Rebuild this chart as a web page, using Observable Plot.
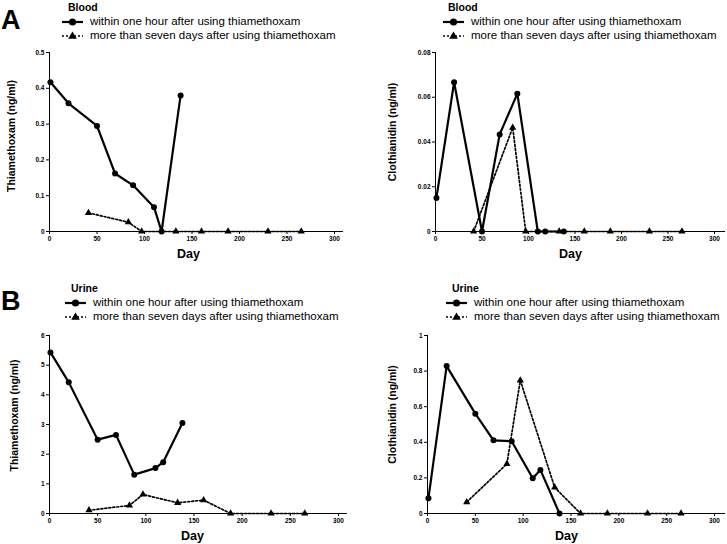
<!DOCTYPE html>
<html>
<head>
<meta charset="utf-8">
<script src="https://cdn.jsdelivr.net/npm/d3@7"></script>
<script src="https://cdn.jsdelivr.net/npm/@observablehq/plot@0.6"></script>
<style>
  html, body { margin: 0; padding: 0; background: #fff; }
  #root { position: relative; width: 727px; height: 544px; background: #fff; font-family: "Liberation Sans", Arial, sans-serif; color: #000; overflow: hidden; }
  .abs { position: absolute; }
  .letter { font-size: 27px; font-weight: bold; line-height: 1; }
  .title { font-size: 10.5px; font-weight: bold; line-height: 1; }
  .leg { font-size: 11.5px; line-height: 1; display: flex; align-items: center; white-space: nowrap; }
  .leg svg { margin-right: 7px; }
</style>
</head>
<body>
<div id="root"></div>
<script>
// ---- data ----
const daysWithin = [1, 20, 50, 69, 88, 110, 118, 138];
const daysLater = [41, 83, 97, 133, 160, 188, 230, 265];
const bloodThxWithin = [0.417, 0.358, 0.295, 0.162, 0.129, 0.068, 0, 0.38];
const bloodThxLater = [0.052, 0.026, 0, 0, 0, 0, 0, 0];
const bloodCloWithin = [0.015, 0.0667, 0, 0.0434, 0.0616, 0, 0, 0];
const bloodCloLater = [0, 0.0464, 0, 0, 0, 0, 0, 0];
const urineThxWithin = [5.43, 4.42, 2.49, 2.65, 1.31, 1.53, 1.73, 3.05];
const urineThxLater = [0.11, 0.27, 0.64, 0.36, 0.45, 0, 0, 0];
const urineCloWithin = [0.086, 0.828, 0.561, 0.411, 0.406, 0.198, 0.245, 0];
const urineCloLater = [0.064, 0.279, 0.748, 0.146, 0, 0, 0, 0];
const xTicks = [0, 50, 100, 150, 200, 250, 300];
const yTicksBloodThx = [0, 0.1, 0.2, 0.3, 0.4, 0.5];
const yTicksBloodClo = [0, 0.02, 0.04, 0.06, 0.08];
const yTicksUrineThx = [0, 1, 2, 3, 4, 5, 6];
const yTicksUrineClo = [0, 0.2, 0.4, 0.6, 0.8, 1];
const legendLabels = ["within one hour after using thiamethoxam", "more than seven days after using thiamethoxam"];

const root = document.getElementById("root");
const fmt = d => String(+d.toFixed(3));

function panel(o) {
  const w = daysWithin.map((d, i) => ({day: d, v: o.within[i]}));
  const l = daysLater.map((d, i) => ({day: d, v: o.later[i]}));
  const chart = Plot.plot({
    width: o.width, height: o.height,
    marginLeft: o.mL, marginRight: o.mR, marginTop: o.mT, marginBottom: o.mB,
    style: {fontFamily: "Liberation Sans, Arial, sans-serif", color: "#000", background: "transparent", overflow: "visible"},
    x: {domain: [0, o.xmax]},
    y: {domain: [0, o.yticks[o.yticks.length - 1]]},
    marks: [
      Plot.axisX({ticks: xTicks, tickFormat: fmt, tickSize: 3, tickPadding: 1.5, fontSize: 6.5, fontWeight: "bold", label: null, stroke: "#000"}),
      Plot.axisY({ticks: o.yticks, tickFormat: fmt, tickSize: 3, tickPadding: 2, fontSize: 6.5, fontWeight: "bold", label: null, stroke: "#000"}),
      Plot.text(["Day"], {frameAnchor: "bottom", textAnchor: "middle", dy: 26, dx: o.dayDx, fontSize: 12.5, fontWeight: "bold", fill: "#000"}),
      Plot.text([o.ylabel], {frameAnchor: "left", textAnchor: "middle", rotate: -90, dx: o.ylabDx, dy: o.ylabDy, fontSize: 10.5, fontWeight: "bold", fill: "#000"}),
      Plot.ruleY([0], {stroke: "#000", strokeWidth: 1}),
      Plot.ruleX([0], {stroke: "#000", strokeWidth: 1}),
      Plot.line(l, {x: "day", y: "v", stroke: "#000", strokeWidth: 1.7, strokeDasharray: "2,2"}),
      Plot.dot(l, {x: "day", y: "v", symbol: "triangle", r: 2.7, fill: "#000", stroke: "none"}),
      Plot.line(w, {x: "day", y: "v", stroke: "#000", strokeWidth: 2.2}),
      Plot.dot(w, {x: "day", y: "v", symbol: "circle", r: 3, fill: "#000", stroke: "none"})
    ]
  });
  chart.style.position = "absolute";
  chart.style.left = o.left + "px";
  chart.style.top = o.top + "px";
  root.appendChild(chart);
}

function addText(cls, text, left, top) {
  const d = document.createElement("div");
  d.className = "abs " + cls;
  d.style.left = left + "px";
  d.style.top = top + "px";
  d.textContent = text;
  root.appendChild(d);
}

function legend(left, top) {
  legendLabels.forEach((lab, i) => {
    const d = document.createElement("div");
    d.className = "abs leg";
    d.style.left = left + "px";
    d.style.top = (top + i * 13.5) + "px";
    const sym = i === 0
      ? '<svg width="21" height="10"><line x1="0" y1="5" x2="21" y2="5" stroke="#000" stroke-width="2.2"/><circle cx="10.5" cy="5" r="3.6" fill="#000"/></svg>'
      : '<svg width="21" height="10"><line x1="0" y1="6" x2="21" y2="6" stroke="#000" stroke-width="1.7" stroke-dasharray="2,2"/><path d="M10.5,1.5 L14.8,8.8 L6.2,8.8 Z" fill="#000"/></svg>';
    d.innerHTML = sym + "<span></span>";
    d.querySelector("span").textContent = lab;
    root.appendChild(d);
  });
}

// Panel letters, titles, legends
addText("letter", "A", 1, 7);
addText("letter", "B", 1, 288);
addText("title", "Blood", 68, 2);
addText("title", "Blood", 448, 2);
addText("title", "Urine", 71, 283);
addText("title", "Urine", 452, 283);
legend(62, 16);
legend(443, 16);
legend(65, 297);
legend(446, 297);

panel({left: 0, top: 40, width: 360, height: 225, mL: 49, mR: 17, mT: 12, mB: 34, xmax: 300 * (343 - 49) / (334 - 49),
  yticks: yTicksBloodThx, ylabel: "Thiamethoxam (ng/ml)", ylabDx: -38, ylabDy: -6, dayDx: -8, within: bloodThxWithin, later: bloodThxLater});
panel({left: 360, top: 40, width: 367, height: 225, mL: 75, mR: 2, mT: 12, mB: 34, xmax: 300 * (725 - 435) / (714 - 435),
  yticks: yTicksBloodClo, ylabel: "Clothianidin (ng/ml)", ylabDx: -43, ylabDy: -10, dayDx: -10, within: bloodCloWithin, later: bloodCloLater});
panel({left: 0, top: 323, width: 360, height: 225, mL: 49, mR: 13, mT: 12, mB: 35, xmax: 300 * (347 - 49) / (338 - 49),
  yticks: yTicksUrineThx, ylabel: "Thiamethoxam (ng/ml)", ylabDx: -35, ylabDy: -9, dayDx: -6, within: urineThxWithin, later: urineThxLater});
panel({left: 360, top: 323, width: 367, height: 225, mL: 67, mR: 2, mT: 12, mB: 35, xmax: 300 * (725 - 427) / (714 - 427),
  yticks: yTicksUrineClo, ylabel: "Clothianidin (ng/ml)", ylabDx: -35, ylabDy: -10, dayDx: -10, within: urineCloWithin, later: urineCloLater});
</script>
</body>
</html>
